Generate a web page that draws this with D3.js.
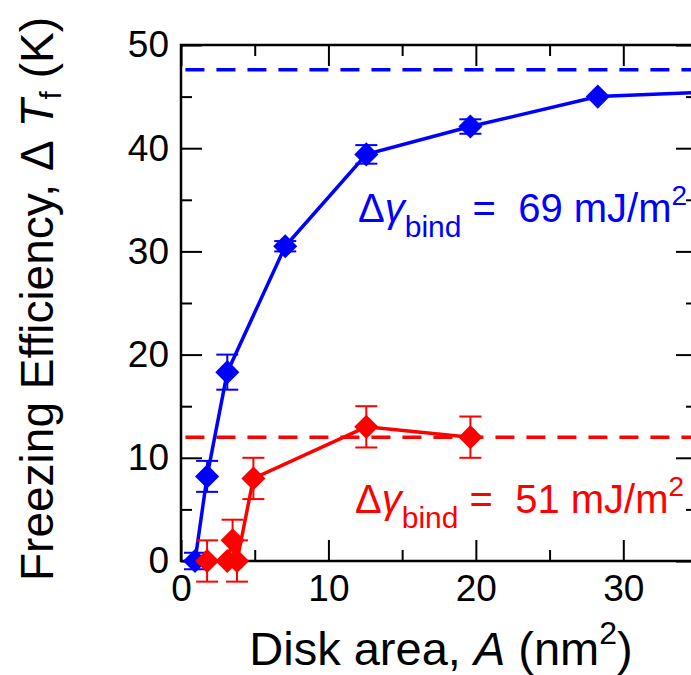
<!DOCTYPE html>
<html>
<head>
<meta charset="utf-8">
<script src="https://cdn.jsdelivr.net/npm/d3@7"></script>
<style>
  body { margin: 0; background: #fff; }
  svg { display: block; font-family: "Liberation Sans", Arial, sans-serif; }
</style>
</head>
<body>
<svg id="chart" width="691" height="675"></svg>
<script>
// disk areas (nm^2) and freezing efficiency (K)
var blue_x   = [0.95, 1.77, 3.14, 7.07, 12.57, 19.63, 28.27, 38.48];
var blue_y   = [0, 8.2, 18.3, 30.5, 39.4, 42.1, 45.0, 45.6];
var blue_err = [0.8, 1.5, 1.7, 0.5, 0.9, 0.7, 0, 0];

var red_x   = [1.77, 3.14, 3.5, 3.8, 4.91, 12.57, 19.63];
var red_y   = [0, 0, 2, 0, 8, 13, 12];
var red_err = [2, 0, 2, 2, 2, 2, 2];

var blue_limit = 47.6;
var red_limit  = 12;

var x_ticks = [0, 10, 20, 30];
var x_minor = [5, 15, 25];
var y_ticks = [0, 10, 20, 30, 40, 50];
var y_minor = [5, 15, 25, 35, 45];

var svg = d3.select("#chart"),
    margin = {top: 45, left: 181},
    width = 516,
    height = 516;

var x = d3.scaleLinear().domain([0, 35]).range([margin.left, margin.left + width]),
    y = d3.scaleLinear().domain([0, 50]).range([margin.top + height, margin.top]);

function pack(xs, ys, es){
  return xs.map(function(v, i){ return {x: v, y: ys[i], e: es[i]}; });
}
var blue = pack(blue_x, blue_y, blue_err);
var red  = pack(red_x, red_y, red_err);

/******************** axes ********************/
function styleAxis(g){
  g.select(".domain").remove();
  g.selectAll("line").attr("stroke", "#000").attr("stroke-width", 2);
  g.selectAll("text").attr("font-size", 37).attr("fill", "#000")
   .attr("font-family", "Liberation Sans, Arial, sans-serif");
}

svg.append("g").attr("transform", "translate(0," + y(0) + ")")
  .call(d3.axisBottom(x).tickValues(x_ticks).tickSize(-21).tickPadding(14).tickFormat(d3.format("d")))
  .call(styleAxis);
svg.append("g").attr("transform", "translate(0," + y(0) + ")")
  .call(d3.axisBottom(x).tickValues(x_minor).tickSize(-11).tickFormat(""))
  .call(styleAxis);
svg.append("g").attr("transform", "translate(0," + y(50) + ")")
  .call(d3.axisTop(x).tickValues(x_ticks).tickSize(-21).tickFormat(""))
  .call(styleAxis);
svg.append("g").attr("transform", "translate(0," + y(50) + ")")
  .call(d3.axisTop(x).tickValues(x_minor).tickSize(-11).tickFormat(""))
  .call(styleAxis);

svg.append("g").attr("transform", "translate(" + x(0) + ",0)")
  .call(d3.axisLeft(y).tickValues(y_ticks).tickSize(-21).tickPadding(12).tickFormat(d3.format("d")))
  .call(styleAxis);
svg.append("g").attr("transform", "translate(" + x(0) + ",0)")
  .call(d3.axisLeft(y).tickValues(y_minor).tickSize(-11).tickFormat(""))
  .call(styleAxis);
svg.append("g").attr("transform", "translate(" + x(35) + ",0)")
  .call(d3.axisRight(y).tickValues(y_ticks).tickSize(-21).tickFormat(""))
  .call(styleAxis);
svg.append("g").attr("transform", "translate(" + x(35) + ",0)")
  .call(d3.axisRight(y).tickValues(y_minor).tickSize(-11).tickFormat(""))
  .call(styleAxis);

svg.append("rect")
  .attr("x", x(0)).attr("y", y(50))
  .attr("width", x(35) - x(0)).attr("height", y(0) - y(50))
  .attr("fill", "none").attr("stroke", "#000").attr("stroke-width", 2.5);

/******************** dashed limits ********************/
function limitLine(val, color){
  svg.append("line")
    .attr("x1", x(0.3)).attr("x2", x(35))
    .attr("y1", y(val)).attr("y2", y(val))
    .attr("stroke", color).attr("stroke-width", 3.5)
    .attr("stroke-dasharray", "19,12");
}
limitLine(blue_limit, "#0000ff");
limitLine(red_limit, "#ff0000");

/******************** series ********************/
var line = d3.line().x(function(d){ return x(d.x); }).y(function(d){ return y(d.y); });

function drawSeries(data, color){
  var g = svg.append("g");
  g.append("path").datum(data)
    .attr("d", line).attr("fill", "none")
    .attr("stroke", color).attr("stroke-width", 3.5);

  var eb = g.selectAll(".err").data(data.filter(function(d){ return d.e > 0; }))
    .enter().append("g").attr("stroke", color).attr("stroke-width", 2);
  eb.append("line")
    .attr("x1", function(d){ return x(d.x); }).attr("x2", function(d){ return x(d.x); })
    .attr("y1", function(d){ return y(d.y - d.e); }).attr("y2", function(d){ return y(d.y + d.e); });
  [-1, 1].forEach(function(s){
    eb.append("line")
      .attr("x1", function(d){ return x(d.x) - 11; }).attr("x2", function(d){ return x(d.x) + 11; })
      .attr("y1", function(d){ return y(d.y + s * d.e); }).attr("y2", function(d){ return y(d.y + s * d.e); });
  });

  g.selectAll(".pt").data(data).enter().append("path")
    .attr("d", d3.symbol().type(d3.symbolSquare).size(290))
    .attr("transform", function(d){ return "translate(" + x(d.x) + "," + y(d.y) + ") rotate(45)"; })
    .attr("fill", color);
}
drawSeries(blue, "#0000ff");
drawSeries(red, "#ff0000");

/******************** annotations ********************/
function bindLabel(px, py, value, color){
  var t = svg.append("text").attr("x", px).attr("y", py)
    .attr("fill", color).attr("font-size", 40);
  t.append("tspan").text("\u0394");
  t.append("tspan").attr("font-style", "italic").text("\u03b3");
  t.append("tspan").attr("font-size", 30).attr("dy", 15).text("bind");
  t.append("tspan").attr("dy", -15).text("\u00a0=\u00a0\u00a0" + value + " mJ/m");
  t.append("tspan").attr("font-size", 28).attr("dy", -17).text("2");
}
bindLabel(358, 222, 69, "#0000ff");
bindLabel(355, 513, 51, "#ff0000");

/******************** axis titles ********************/
var xt = svg.append("text")
  .attr("x", 441).attr("y", 665)
  .attr("text-anchor", "middle").attr("font-size", 47);
xt.append("tspan").text("Disk area, ");
xt.append("tspan").attr("font-style", "italic").text("A");
xt.append("tspan").text(" (nm");
xt.append("tspan").attr("font-size", 32).attr("dy", -21).text("2");
xt.append("tspan").attr("dy", 21).text(")");

var yt = svg.append("text")
  .attr("transform", "translate(53," + 299 + ") rotate(-90)")
  .attr("text-anchor", "middle").attr("font-size", 46);
yt.append("tspan").text("Freezing Efficiency, \u0394\u00a0");
yt.append("tspan").attr("font-style", "italic").text("T");
yt.append("tspan").attr("font-size", 30).attr("dy", 8).text("f");
yt.append("tspan").attr("dy", -8).text(" (K)");
</script>
</body>
</html>
